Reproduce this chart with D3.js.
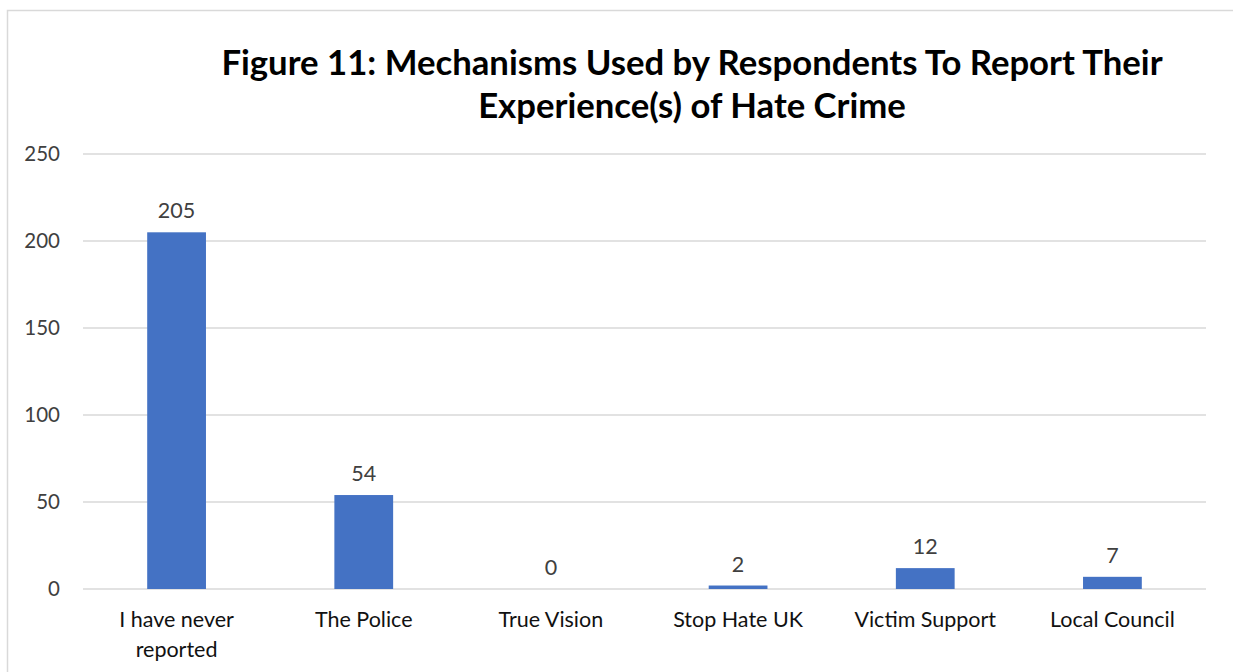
<!DOCTYPE html>
<html>
<head>
<meta charset="utf-8">
<script src="https://cdn.jsdelivr.net/npm/d3@7"></script>
<style>
  html, body { margin: 0; padding: 0; background: #fff; }
  svg { display: block; font-family: Lato, "Liberation Sans", sans-serif; }
</style>
</head>
<body>
<svg id="chart" width="1233" height="672"></svg>
<script>
// Reporting mechanisms and respondent counts
const categories = [
  ["I have never", "reported"],
  ["The Police"],
  ["True Vision"],
  ["Stop Hate UK"],
  ["Victim Support"],
  ["Local Council"]
];
const values = [205, 54, 0, 2, 12, 7];
const yTicks = [0, 50, 100, 150, 200, 250];
const titleLines = [
  "Figure 11: Mechanisms Used by Respondents To Report Their",
  "Experience(s) of Hate Crime"
];

const svg = d3.select("#chart");
const W = 1233, H = 672;

// chart area frame
svg.append("rect")
  .attr("x", 7.5).attr("y", 10.5)
  .attr("width", W + 10).attr("height", H + 10)
  .attr("fill", "#fff").attr("stroke", "#d9d9d9").attr("stroke-width", 1.5);

const plot = { left: 83, right: 1206, top: 154, bottom: 589 };

const x = d3.scaleBand()
  .domain(d3.range(categories.length))
  .range([plot.left, plot.right])
  .paddingInner(0.686).paddingOuter(0.343);

const y = d3.scaleLinear()
  .domain([0, 250])
  .range([plot.bottom, plot.top]);

// gridlines
svg.append("g")
  .selectAll("line")
  .data(yTicks)
  .join("line")
  .attr("x1", plot.left).attr("x2", plot.right)
  .attr("y1", d => y(d)).attr("y2", d => y(d))
  .attr("stroke", "#d9d9d9").attr("stroke-width", 1.5);

// y tick labels
svg.append("g")
  .selectAll("text")
  .data(yTicks)
  .join("text")
  .attr("x", 60).attr("y", d => y(d))
  .attr("dy", "0.35em")
  .attr("text-anchor", "end")
  .attr("font-size", 20.5)
  .attr("fill", "#404040")
  .text(d => d);

// bars
svg.append("g")
  .selectAll("rect")
  .data(values)
  .join("rect")
  .attr("x", (d, i) => x(i))
  .attr("width", x.bandwidth())
  .attr("y", d => y(d))
  .attr("height", d => y(0) - y(d))
  .attr("fill", "#4472c4");

// value labels
svg.append("g")
  .selectAll("text")
  .data(values)
  .join("text")
  .attr("x", (d, i) => x(i) + x.bandwidth() / 2)
  .attr("y", d => y(d) - 14)
  .attr("text-anchor", "middle")
  .attr("font-size", 21.5)
  .attr("fill", "#404040")
  .text(d => d);

// category labels
const cat = svg.append("g")
  .selectAll("text")
  .data(categories)
  .join("text")
  .attr("x", (d, i) => x(i) + x.bandwidth() / 2)
  .attr("y", 627)
  .attr("text-anchor", "middle")
  .attr("font-size", 21.5)
  .attr("fill", "#111");
cat.selectAll("tspan")
  .data((d, i) => d.map(t => ({ t, i })))
  .join("tspan")
  .attr("x", d => x(d.i) + x.bandwidth() / 2)
  .attr("dy", (d, j) => j === 0 ? 0 : 30)
  .text(d => d.t);

// title
svg.append("text")
  .attr("x", 692).attr("y", 75)
  .attr("text-anchor", "middle")
  .attr("font-size", 34.7)
  .attr("font-weight", "bold")
  .attr("fill", "#000")
  .selectAll("tspan")
  .data(titleLines)
  .join("tspan")
  .attr("x", 692)
  .attr("dy", (d, i) => i === 0 ? 0 : 43)
  .text(d => d);
</script>
</body>
</html>
